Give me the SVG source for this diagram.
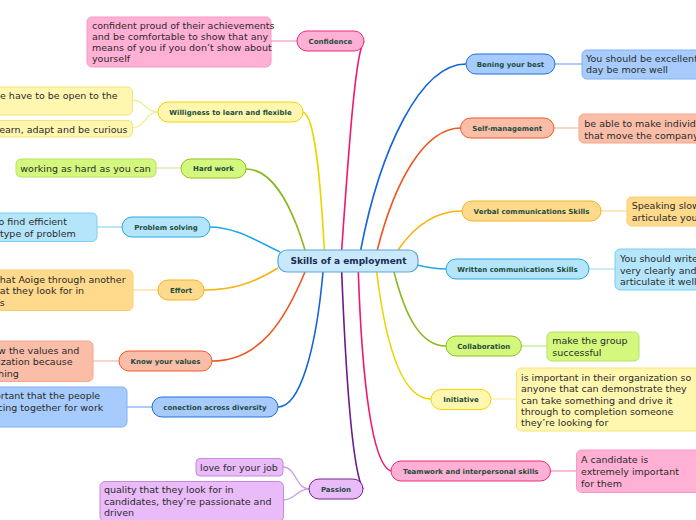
<svg xmlns="http://www.w3.org/2000/svg" width="696" height="520" viewBox="0 0 696 520">
<style>
  text { font-family: "DejaVu Sans", Verdana, sans-serif; }
  .t { font-size: 7px; font-weight: bold; fill: #1e4d3c; text-anchor: middle; }
  .n { font-size: 9.5px; fill: #2b2b2b; }
  .c { fill: none; stroke-width: 1.6; }
  .l { fill: none; stroke-width: 1.4; }
  .pk { fill: #ffb0d4; stroke: #ee2b7b; }
  .pkn { fill: #ffb0d4; stroke: #f79ac6; }
  .yl { fill: #fff6b0; stroke: #f2d600; }
  .yln { fill: #fff6b0; stroke: #f7e37a; }
  .gr { fill: #d4f77e; stroke: #8fc11e; }
  .grn { fill: #d4f77e; stroke: #b8e163; }
  .lb { fill: #b4e5fb; stroke: #24a8e6; }
  .lbn { fill: #b4e5fb; stroke: #7ccdf2; }
  .or { fill: #ffd98c; stroke: #f5b322; }
  .orn { fill: #ffd98c; stroke: #fbcd6a; }
  .rd { fill: #f9bda8; stroke: #f05a28; }
  .rdn { fill: #f9bda8; stroke: #f7a78c; }
  .bl { fill: #a6cbfc; stroke: #1e6fe0; }
  .bln { fill: #a6cbfc; stroke: #7fb1f6; }
  .pu { fill: #e9bbf8; stroke: #7a2291; }
  .pun { fill: #e9bbf8; stroke: #c88ad9; }
</style>

<g id="connectors">
  <path class="c" stroke="#f0186f" d="M341.7,250 C350,130 356,52 364,41"/>
  <path class="c" stroke="#ecd400" d="M324.3,250 C320,170 314,115 303,112"/>
  <path class="c" stroke="#8ab81e" d="M305,250 C290,200 270,169 246,169"/>
  <path class="c" stroke="#1ea8e6" d="M280,252 C255,240 235,227 209,227"/>
  <path class="c" stroke="#f8b416" d="M278,268 C255,282 235,290 204,290"/>
  <path class="c" stroke="#f05522" d="M305,272 C285,320 260,361 212,361"/>
  <path class="c" stroke="#1466d8" d="M323,272 C316,350 300,407 278,407"/>
  <path class="c" stroke="#6a1a8a" d="M341.7,272 C346,380 352,470 363,489"/>
  <path class="c" stroke="#f0186f" d="M358.3,272 C362,380 372,465 391,471"/>
  <path class="c" stroke="#1466d8" d="M360.7,250 C380,150 420,64 466,64"/>
  <path class="c" stroke="#f05522" d="M377.3,250 C395,180 425,128 460.7,128"/>
  <path class="c" stroke="#f8b416" d="M398,250 C415,225 435,211 462,211"/>
  <path class="c" stroke="#1ea8e6" d="M417,265 C430,268 435,269 446,269"/>
  <path class="c" stroke="#8ab81e" d="M394,272 C405,315 420,346 446,346"/>
  <path class="c" stroke="#ecd400" d="M376.7,272 C385,340 400,399 431,399"/>

  <path class="l" stroke="#f8a8cc" d="M271,41 H297"/>
  <path class="l" stroke="#f8eb9a" d="M158,112 C145,112 145,100 132,100"/>
  <path class="l" stroke="#f8eb9a" d="M158,112 C145,112 145,128 132,128"/>
  <path class="l" stroke="#dcedb8" d="M156,168 H181"/>
  <path class="l" stroke="#9fd8f5" d="M97,227 H122"/>
  <path class="l" stroke="#ffe0a0" d="M133,290 H158"/>
  <path class="l" stroke="#f9c3b0" d="M93,361 H119"/>
  <path class="l" stroke="#8ab8f5" d="M127,407 H152"/>
  <path class="l" stroke="#cfa0dc" d="M309,489 C296,489 296,467 283,467"/>
  <path class="l" stroke="#cfa0dc" d="M309,489 C296,489 296,500 283,500"/>
  <path class="l" stroke="#8ab8f5" d="M555,64 H582"/>
  <path class="l" stroke="#f9c3b0" d="M554,128 H579"/>
  <path class="l" stroke="#ffe0a0" d="M601,211 H627"/>
  <path class="l" stroke="#b9e4f8" d="M589,269 H615"/>
  <path class="l" stroke="#c8eb90" d="M521,346 H547"/>
  <path class="l" stroke="#fff0b0" d="M491,399 H516"/>
  <path class="l" stroke="#f9a0c8" d="M550,471 H576"/>
</g>

<g id="central">
  <rect x="278" y="250" width="140" height="22" rx="9" fill="#c8e8fb" stroke="#5aa6dc" stroke-width="1.2"/>
  <text x="348.5" y="264.2" font-size="9" font-weight="bold" fill="#1c2b4f" text-anchor="middle">Skills of a employment</text>
</g>

<g id="confidence">
  <rect class="pk" x="297" y="31" width="67" height="20" rx="10"/>
  <text class="t" x="330.5" y="43.5">Confidence</text>
  <rect class="pkn" x="87" y="17" width="184" height="50" rx="5"/>
  <text class="n" x="92" y="28.8" font-size="9">confident proud of their achievements</text>
  <text class="n" x="92" y="39.8" font-size="9">and be comfortable to show that any</text>
  <text class="n" x="92" y="50.8" font-size="9">means of you if you don’t show about</text>
  <text class="n" x="92" y="62" font-size="9">yourself</text>
</g>

<g id="willigness">
  <rect class="yl" x="158" y="102" width="145" height="20" rx="10"/>
  <text class="t" x="230.5" y="114.5">Willigness to learn and flexible</text>
  <rect class="yln" x="-60" y="87" width="192.5" height="28" rx="5"/>
  <text class="n" x="0" y="99.3">e have to be open to the</text>
  <rect class="yln" x="-60" y="120.5" width="192.5" height="16.5" rx="5"/>
  <text class="n" x="-0.8" y="133">earn, adapt and be curious</text>
</g>

<g id="hardwork">
  <rect class="gr" x="181" y="159" width="65" height="19" rx="9.5"/>
  <text class="t" x="213.5" y="171">Hard work</text>
  <rect class="grn" x="16" y="159" width="140" height="18" rx="5"/>
  <text class="n" x="20.3" y="171.6">working as hard as you can</text>
</g>

<g id="problem">
  <rect class="lb" x="122" y="217" width="88" height="20" rx="10"/>
  <text class="t" x="166" y="229.5">Problem solving</text>
  <rect class="lbn" x="-60" y="213" width="157" height="28.5" rx="5"/>
  <text class="n" x="-1.5" y="225">o find efficient</text>
  <text class="n" x="0" y="237.3">type of problem</text>
</g>

<g id="effort">
  <rect class="or" x="158" y="280" width="46" height="20" rx="10"/>
  <text class="t" x="181" y="292.5">Effort</text>
  <rect class="orn" x="-60" y="270" width="193" height="40.5" rx="5"/>
  <text class="n" x="-0.2" y="283.3">hat Aoige through another</text>
  <text class="n" x="-0.2" y="294.3">at they look for in</text>
  <text class="n" x="-0.2" y="306">s</text>
</g>

<g id="values">
  <rect class="rd" x="119" y="351" width="93" height="20" rx="10"/>
  <text class="t" x="165.5" y="363.5">Know your values</text>
  <rect class="rdn" x="-60" y="341" width="153" height="40.5" rx="5"/>
  <text class="n" x="-1.9" y="354">w the values and</text>
  <text class="n" x="-1.9" y="365.3">ization because</text>
  <text class="n" x="-1.9" y="377">hing</text>
</g>

<g id="diversity">
  <rect class="bl" x="152" y="397" width="126" height="20" rx="10"/>
  <text class="t" x="215" y="409.5">conection across diversity</text>
  <rect class="bln" x="-60" y="387" width="187" height="40" rx="5"/>
  <text class="n" x="-5" y="399.3">ortant that the people</text>
  <text class="n" x="-2.6" y="411">cing together for work</text>
</g>

<g id="passion">
  <rect class="pu" x="309" y="479" width="54" height="20" rx="10"/>
  <text class="t" x="336" y="491.5">Passion</text>
  <rect class="pun" x="196" y="458.5" width="87" height="17.5" rx="4"/>
  <text class="n" x="200" y="470.6">love for your job</text>
  <rect class="pun" x="100" y="481.5" width="183.5" height="40" rx="5"/>
  <text class="n" x="104" y="493.3">quality that they look for in</text>
  <text class="n" x="104" y="505">candidates, they’re passionate and</text>
  <text class="n" x="104" y="516.3">driven</text>
</g>

<g id="bening">
  <rect class="bl" x="466" y="54" width="89" height="20" rx="10"/>
  <text class="t" x="510.5" y="66.5">Bening your best</text>
  <rect class="bln" x="582" y="50" width="130" height="29" rx="5"/>
  <text class="n" x="586" y="61.7">You should be excellent</text>
  <text class="n" x="586" y="73.3">day be more well</text>
</g>

<g id="selfmanagement">
  <rect class="rd" x="460.5" y="118" width="93.5" height="20" rx="10"/>
  <text class="t" x="507.25" y="130.5">Self-management</text>
  <rect class="rdn" x="579" y="114" width="130" height="29" rx="5"/>
  <text class="n" x="584.3" y="127.3">be able to make individ</text>
  <text class="n" x="584.3" y="138.6">that move the company</text>
</g>

<g id="verbal">
  <rect class="or" x="462" y="201" width="139" height="20" rx="10"/>
  <text class="t" x="531.5" y="213.5">Verbal communications Skills</text>
  <rect class="orn" x="627" y="197" width="100" height="29" rx="5"/>
  <text class="n" x="631.7" y="209.3">Speaking slow</text>
  <text class="n" x="631.7" y="220.7">articulate you</text>
</g>

<g id="written">
  <rect class="lb" x="446" y="259" width="143" height="20" rx="10"/>
  <text class="t" x="517.5" y="271.5">Written communications Skills</text>
  <rect class="lbn" x="615" y="249" width="100" height="41" rx="5"/>
  <text class="n" x="620" y="262.3">You should write</text>
  <text class="n" x="620" y="273.5">very clearly and</text>
  <text class="n" x="620" y="285">articulate it well</text>
</g>

<g id="collaboration">
  <rect class="gr" x="446" y="336" width="75.5" height="20" rx="10"/>
  <text class="t" x="483.75" y="348.5">Collaboration</text>
  <rect class="grn" x="547" y="332" width="92" height="29" rx="5"/>
  <text class="n" x="552.3" y="344.3">make the group</text>
  <text class="n" x="552.3" y="355.7">successful</text>
</g>

<g id="initiative">
  <rect class="yl" x="431" y="389.5" width="60" height="20" rx="10"/>
  <text class="t" x="461" y="402">Initiative</text>
  <rect class="yln" x="516.5" y="368" width="200" height="63" rx="5"/>
  <text class="n" x="521" y="380.6">is important in their organization so</text>
  <text class="n" x="521" y="392.2">anyone that can demonstrate they</text>
  <text class="n" x="521" y="403.6">can take something and drive it</text>
  <text class="n" x="521" y="415">through to completion someone</text>
  <text class="n" x="521" y="426.3">they’re looking for</text>
</g>

<g id="teamwork">
  <rect class="pk" x="391" y="461" width="159.5" height="20" rx="10"/>
  <text class="t" x="470.75" y="473.5">Teamwork and interpersonal skills</text>
  <rect class="pkn" x="576.5" y="450" width="130" height="42.5" rx="5"/>
  <text class="n" x="581" y="462.8" font-size="10.6">A candidate is</text>
  <text class="n" x="581" y="475" font-size="10.6">extremely important</text>
  <text class="n" x="581" y="487.2" font-size="10.6">for them</text>
</g>
</svg>
